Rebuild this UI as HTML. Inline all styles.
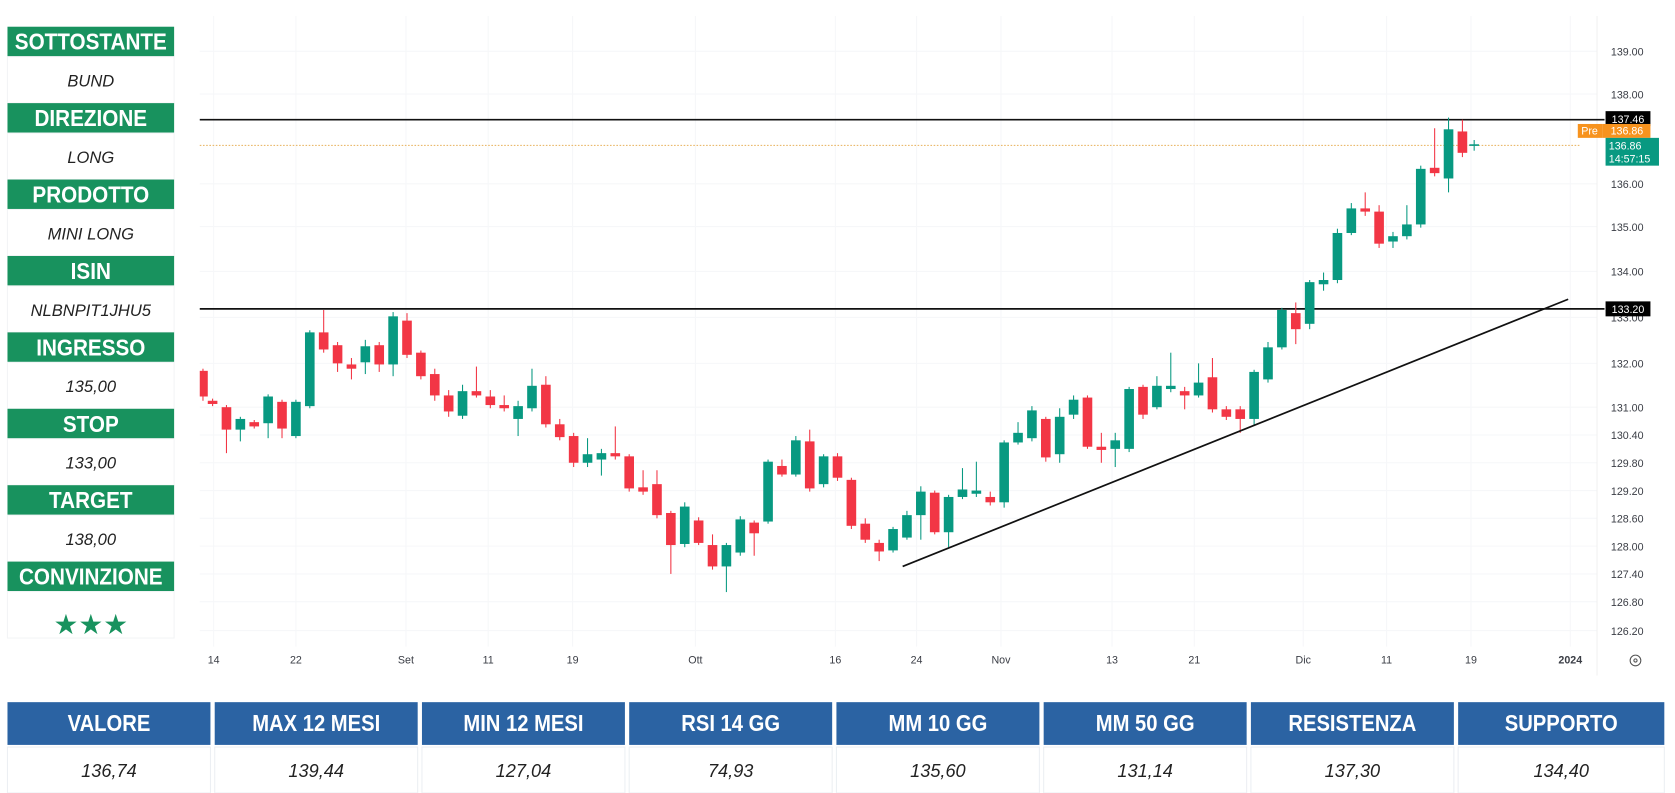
<!DOCTYPE html>
<html><head><meta charset="utf-8"><style>
html,body{margin:0;padding:0;background:#fff;width:1675px;height:793px;overflow:hidden}
svg{display:block}
.h{font-family:"Liberation Sans",sans-serif;font-weight:bold;fill:#fff;text-anchor:middle}
.v{font-family:"Liberation Sans",sans-serif;font-style:italic;fill:#222;text-anchor:middle}
.ax{font-family:"Liberation Sans",sans-serif;font-size:10px;fill:#3a3d45}
</style></head><body>
<svg id="s" width="1675" height="793" viewBox="0 0 1568 742" preserveAspectRatio="none" xmlns="http://www.w3.org/2000/svg">
<rect width="1568" height="742" fill="#fff"/>
<g id="grid" stroke="#f6f7f9" stroke-width="1"></g>
<g id="left"></g>
<line x1="187" y1="112" x2="1502" y2="112" stroke="#111" stroke-width="1.6"/>
<line x1="187" y1="289" x2="1502" y2="289" stroke="#111" stroke-width="1.6"/>
<line x1="187" y1="136" x2="1480" y2="136" stroke="#e8b15a" stroke-width="1" stroke-dasharray="1.5,1.5"/>
<g id="candles"></g>
<line x1="845" y1="530" x2="1468" y2="280" stroke="#111" stroke-width="1.6"/>
<g id="axis"></g>
<rect x="1503" y="104" width="42" height="14" fill="#000"/>
<text x="1524" y="115" class="ax" style="fill:#fff" text-anchor="middle">137.46</text>
<rect x="1477" y="116" width="23" height="13" fill="#f7931e"/>
<text x="1488" y="126" class="ax" style="fill:#fff" text-anchor="middle">Pre</text>
<rect x="1500" y="116" width="45" height="13" fill="#f7931e"/>
<text x="1523" y="126" class="ax" style="fill:#fff" text-anchor="middle">136.86</text>
<rect x="1503" y="129" width="50" height="26" fill="#089981"/>
<text x="1506" y="140" class="ax" style="fill:#fff">136.86</text>
<text x="1506" y="152" class="ax" style="fill:#fff">14:57:15</text>
<rect x="1503" y="282" width="42" height="14" fill="#000"/>
<text x="1524" y="293" class="ax" style="fill:#fff" text-anchor="middle">133.20</text>
<circle cx="1531" cy="618" r="5" fill="none" stroke="#555" stroke-width="1"/>
<circle cx="1531" cy="618" r="1.5" fill="none" stroke="#555" stroke-width="1"/>
<g id="table"></g>
</svg>
<script>
const NS="http://www.w3.org/2000/svg";
function el(p,t,a,txt){const e=document.createElementNS(NS,t);for(const k in a)e.setAttribute(k,a[k]);if(txt!==undefined)e.textContent=txt;document.getElementById(p).appendChild(e);return e;}
function cond(e,f,max){let w=e.getComputedTextLength()*f;if(max&&w>max)w=max;e.setAttribute('textLength',w);e.setAttribute('lengthAdjust','spacingAndGlyphs');}
[200,277,380,457,536,651,782,858,937,1041,1118,1220,1298,1377,1470].forEach(x=>el('grid','line',{x1:x,y1:15,x2:x,y2:605}));
const ylab=[[48,'139.00'],[88,'138.00'],[172,'136.00'],[212,'135.00'],[254,'134.00'],[297,'133.00'],[340,'132.00'],[381,'131.00'],[407,'130.40'],[433,'129.80'],[459,'129.20'],[485,'128.60'],[511,'128.00'],[537,'127.40'],[563,'126.80'],[590,'126.20']];
ylab.forEach(([y,t])=>{el('grid','line',{x1:187,y1:y,x2:1495,y2:y});el('axis','text',{x:1508,y:y+4,class:'ax'},t);});
el('grid','line',{x1:1495,y1:15,x2:1495,y2:632,stroke:'#f0f0f0'});
[[200,'14'],[277,'22'],[380,'Set'],[457,'11'],[536,'19'],[651,'Ott'],[782,'16'],[858,'24'],[937,'Nov'],[1041,'13'],[1118,'21'],[1220,'Dic'],[1298,'11'],[1377,'19'],[1470,'2024']].forEach(([x,t])=>el('axis','text',{x:x,y:621,class:'ax','text-anchor':'middle','font-weight':t=='2024'?'bold':'normal'},t));
const C=[[190,347,371,345,375],[199,375,378,373,380],[212,381,402,379,424],[225,402,392,390,413],[238,395,399,393,401],[251,396,371,369,410],[264,376,401,374,410],[277,408,376,374,410],[290,380,311,309,382],[303,311,327,290,330],[316,323,340,320,348],[329,341,345,335,355],[342,339,324,318,350],[355,323,341,320,348],[368,341,296,292,352],[381,300,332,293,335],[394,330,352,328,355],[407,350,370,345,375],[420,370,385,365,390],[433,389,366,360,392],[446,366,370,343,372],[459,371,379,365,382],[472,379,382,370,385],[485,392,380,375,408],[498,382,361,345,385],[511,360,397,352,400],[524,397,409,392,412],[537,408,433,405,437],[550,433,425,410,437],[563,430,424,420,445],[576,424,427,399,430],[589,427,457,425,460],[602,456,460,440,463],[615,453,482,440,485],[628,480,510,478,537],[641,509,474,470,512],[654,487,508,484,510],[667,510,530,500,533],[680,530,510,508,554],[693,517,486,483,520],[706,489,499,487,520],[719,488,432,430,490],[732,436,444,430,446],[745,444,412,408,446],[758,413,457,402,460],[771,453,427,425,456],[784,427,447,424,450],[797,449,492,447,495],[810,490,505,485,508],[823,508,516,505,525],[836,515,495,493,517],[849,503,482,478,505],[862,482,460,455,505],[875,461,498,459,500],[888,498,465,463,512],[901,465,458,438,467],[914,462,459,432,465],[927,465,470,460,473],[940,470,414,412,475],[953,414,405,395,416],[966,410,384,380,413],[979,392,428,390,432],[992,425,390,382,433],[1005,388,374,370,392],[1018,372,418,370,420],[1031,418,421,405,433],[1044,420,412,405,437],[1057,420,364,362,423],[1070,362,388,360,392],[1083,381,361,352,383],[1096,364,361,330,367],[1109,366,370,362,383],[1122,370,358,340,372],[1135,353,383,335,386],[1148,383,390,380,393],[1161,383,392,380,405],[1174,392,348,346,398],[1187,355,325,320,358],[1200,325,290,288,327],[1213,293,308,283,322],[1226,303,264,262,308],[1239,266,262,255,272],[1252,262,218,214,265],[1265,218,195,190,220],[1278,195,198,180,202],[1291,198,228,192,232],[1304,226,221,217,232],[1317,221,210,192,224],[1330,210,158,155,213],[1343,157,162,120,165],[1356,167,121,110,180],[1369,123,143,112,147],[1380,136,135,131,141]];
C.forEach(([x,o,c,h,l])=>{const col=c>o?'#f23645':'#089981';const t=Math.min(o,c),b=Math.max(o,c);
el('candles','line',{x1:x,y1:h,x2:x,y2:l,stroke:col,'stroke-width':1});
el('candles','rect',{x:Math.max(x-4.5,187),y:t,width:x-4.5<187?x+4.5-187:9,height:Math.max(b-t,1.5),fill:col});});
const L=[['SOTTOSTANTE','BUND'],['DIREZIONE','LONG'],['PRODOTTO','MINI LONG'],['ISIN','NLBNPIT1JHU5'],['INGRESSO','135,00'],['STOP','133,00'],['TARGET','138,00'],['CONVINZIONE','']];
L.forEach(([h,v],i)=>{const y=25+i*71.5;
el('left','rect',{x:7,y:y,width:156,height:28,fill:'#18925e'});
cond(el('left','text',{x:85,y:y+21.5,class:'h','font-size':22},h),0.88,146);
el('left','rect',{x:7,y:y+28,width:156,height:43.5,fill:'#fff',stroke:'#f3f4f6','stroke-width':1});
if(v)el('left','text',{x:85,y:y+56,class:'v','font-size':15.5},v);});
el('left','text',{x:85,y:593,'text-anchor':'middle','font-size':26,fill:'#18925e','font-family':'DejaVu Sans,sans-serif'},'★★★');
const T=[['VALORE','136,74'],['MAX 12 MESI','139,44'],['MIN 12 MESI','127,04'],['RSI 14 GG','74,93'],['MM 10 GG','135,60'],['MM 50 GG','131,14'],['RESISTENZA','137,30'],['SUPPORTO','134,40']];
T.forEach(([h,v],i)=>{const x=7+i*194,w=i==7?193:190;
el('table','rect',{x:x,y:657,width:w,height:40,fill:'#2b63a3'});
cond(el('table','text',{x:x+w/2,y:684,class:'h','font-size':22},h),0.86);
el('table','rect',{x:x,y:699,width:w,height:43,fill:'#fff',stroke:'#eceff3','stroke-width':1});
el('table','text',{x:x+w/2,y:727,class:'v','font-size':17},v);});
</script>
</body></html>
